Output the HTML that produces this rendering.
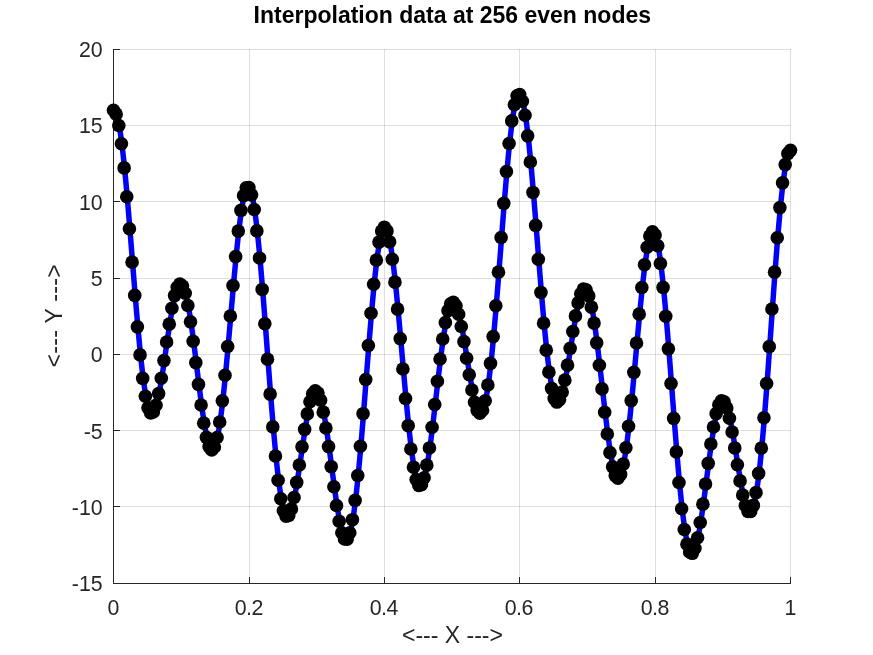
<!DOCTYPE html>
<html lang="en"><head><meta charset="utf-8"><title>Interpolation data at 256 even nodes</title>
<style>html,body{margin:0;padding:0;background:#fff;overflow:hidden}svg{display:block}text{font-family:"Liberation Sans",sans-serif;fill:#262626}</style></head><body>
<svg width="873" height="655" viewBox="0 0 873 655">
<rect x="0" y="0" width="873" height="655" fill="#ffffff"/>
<g stroke="#262626" stroke-opacity="0.15" stroke-width="1" shape-rendering="crispEdges" fill="none">
<line x1="113.5" y1="49.0" x2="113.5" y2="584.0"/>
<line x1="249.5" y1="49.0" x2="249.5" y2="584.0"/>
<line x1="384.5" y1="49.0" x2="384.5" y2="584.0"/>
<line x1="519.5" y1="49.0" x2="519.5" y2="584.0"/>
<line x1="655.5" y1="49.0" x2="655.5" y2="584.0"/>
<line x1="790.5" y1="49.0" x2="790.5" y2="584.0"/>
<line x1="113.0" y1="583.5" x2="791.0" y2="583.5"/>
<line x1="113.0" y1="506.5" x2="791.0" y2="506.5"/>
<line x1="113.0" y1="430.5" x2="791.0" y2="430.5"/>
<line x1="113.0" y1="354.5" x2="791.0" y2="354.5"/>
<line x1="113.0" y1="278.5" x2="791.0" y2="278.5"/>
<line x1="113.0" y1="201.5" x2="791.0" y2="201.5"/>
<line x1="113.0" y1="125.5" x2="791.0" y2="125.5"/>
<line x1="113.0" y1="49.5" x2="791.0" y2="49.5"/>
</g>
<g stroke="#262626" stroke-width="1" shape-rendering="crispEdges" fill="none">
<line x1="113.5" y1="49.0" x2="113.5" y2="584.0"/>
<line x1="113.0" y1="583.5" x2="791.0" y2="583.5"/>
<line x1="113.5" y1="584.0" x2="113.5" y2="577.0"/>
<line x1="249.5" y1="584.0" x2="249.5" y2="577.0"/>
<line x1="384.5" y1="584.0" x2="384.5" y2="577.0"/>
<line x1="519.5" y1="584.0" x2="519.5" y2="577.0"/>
<line x1="655.5" y1="584.0" x2="655.5" y2="577.0"/>
<line x1="790.5" y1="584.0" x2="790.5" y2="577.0"/>
<line x1="113.0" y1="583.5" x2="120.0" y2="583.5"/>
<line x1="113.0" y1="506.5" x2="120.0" y2="506.5"/>
<line x1="113.0" y1="430.5" x2="120.0" y2="430.5"/>
<line x1="113.0" y1="354.5" x2="120.0" y2="354.5"/>
<line x1="113.0" y1="278.5" x2="120.0" y2="278.5"/>
<line x1="113.0" y1="201.5" x2="120.0" y2="201.5"/>
<line x1="113.0" y1="125.5" x2="120.0" y2="125.5"/>
<line x1="113.0" y1="49.5" x2="120.0" y2="49.5"/>
</g>
<g font-size="21.33px">
<text x="113.50" y="614.90" text-anchor="middle">0</text>
<text x="248.80" y="614.90" text-anchor="middle" letter-spacing="-0.5">0.2</text>
<text x="383.80" y="614.90" text-anchor="middle" letter-spacing="-0.5">0.4</text>
<text x="518.80" y="614.90" text-anchor="middle" letter-spacing="-0.5">0.6</text>
<text x="654.80" y="614.90" text-anchor="middle" letter-spacing="-0.5">0.8</text>
<text x="790.50" y="614.90" text-anchor="middle">1</text>
<text x="102.70" y="590.80" text-anchor="end">-15</text>
<text x="102.70" y="514.80" text-anchor="end">-10</text>
<text x="102.70" y="438.80" text-anchor="end">-5</text>
<text x="102.70" y="361.80" text-anchor="end">0</text>
<text x="102.70" y="285.80" text-anchor="end">5</text>
<text x="102.70" y="209.80" text-anchor="end">10</text>
<text x="102.70" y="132.80" text-anchor="end">15</text>
<text x="102.70" y="56.80" text-anchor="end">20</text>
</g>
<text x="452.30" y="22.80" text-anchor="middle" font-size="23.00px" font-weight="bold" fill="#000000" style="fill:#000">Interpolation data at 256 even nodes</text>
<text x="452.50" y="642.80" text-anchor="middle" font-size="23.00px">&lt;--- X ---&gt;</text>
<text transform="translate(62.00 315.80) rotate(-90)" text-anchor="middle" letter-spacing="0.3" font-size="23.00px">&lt;--- Y ---&gt;</text>
<polyline points="113.95,110.31 116.60,114.16 119.26,125.51 121.91,143.75 124.57,167.92 127.22,196.73 129.88,228.70 132.53,262.16 135.19,295.42 137.84,326.83 140.50,354.89 143.15,378.33 145.81,396.19 148.46,407.84 151.12,413.06 153.77,412.01 156.43,405.23 159.08,393.60 161.74,378.27 164.39,360.60 167.05,342.06 169.70,324.13 172.36,308.24 175.01,295.62 177.67,287.30 180.32,283.96 182.98,285.95 185.63,293.25 188.29,305.45 190.94,321.82 193.60,341.31 196.25,362.64 198.91,384.38 201.56,405.04 204.22,423.14 206.87,437.37 209.53,446.58 212.18,449.95 214.84,446.98 217.49,437.56 220.15,421.96 222.80,400.86 225.46,375.25 228.11,346.44 230.77,315.96 233.42,285.46 236.08,256.63 238.73,231.10 241.39,210.36 244.04,195.64 246.70,187.85 249.35,187.54 252.00,194.85 254.66,209.53 257.31,230.91 259.97,257.99 262.62,289.43 265.28,323.72 267.93,359.18 270.59,394.11 273.24,426.88 275.90,456.01 278.55,480.26 281.21,498.71 283.86,510.78 286.52,516.30 289.17,515.47 291.83,508.89 294.48,497.47 297.14,482.39 299.79,465.02 302.45,446.84 305.10,429.33 307.76,413.88 310.41,401.72 313.07,393.80 315.72,390.78 318.38,392.95 321.03,400.23 323.69,412.17 326.34,427.99 329.00,446.59 331.65,466.68 334.31,486.81 336.96,505.48 339.62,521.23 342.27,532.77 344.93,539.00 347.58,539.13 350.24,532.71 352.89,519.68 355.55,500.39 358.20,475.54 360.86,446.19 363.51,413.68 366.17,379.56 368.82,345.50 371.48,313.19 374.13,284.27 376.79,260.17 379.44,242.10 382.10,230.94 384.75,227.18 387.40,230.92 390.06,241.86 392.71,259.29 395.37,282.14 398.02,309.10 400.68,338.59 403.33,368.97 405.99,398.53 408.64,425.68 411.30,448.95 413.95,467.18 416.61,479.48 419.26,485.35 421.92,484.68 424.57,477.73 427.23,465.16 429.88,447.93 432.54,427.26 435.19,404.56 437.85,381.31 440.50,359.02 443.16,339.05 445.81,322.61 448.47,310.64 451.12,303.75 453.78,302.19 456.43,305.85 459.09,314.24 461.74,326.54 464.40,341.63 467.05,358.20 469.71,374.81 472.36,389.95 475.02,402.22 477.67,410.32 480.33,413.21 482.98,410.16 485.64,400.77 488.29,385.06 490.95,363.41 493.60,336.59 496.26,305.70 498.91,272.14 501.57,237.46 504.22,203.36 506.88,171.52 509.53,143.56 512.19,120.90 514.84,104.70 517.50,95.78 520.15,94.60 522.80,101.20 525.46,115.20 528.11,135.85 530.77,162.06 533.42,192.43 536.08,225.41 538.73,259.30 541.39,292.43 544.04,323.18 546.70,350.14 549.35,372.15 552.01,388.39 554.66,398.38 557.32,402.07 559.97,399.75 562.63,392.12 565.28,380.16 567.94,365.13 570.59,348.42 573.25,331.52 575.90,315.90 578.56,302.91 581.21,293.70 583.87,289.15 586.52,289.82 589.18,295.88 591.83,307.17 594.49,323.12 597.14,342.86 599.80,365.24 602.45,388.88 605.11,412.31 607.76,434.05 610.42,452.64 613.07,466.84 615.73,475.61 618.38,478.24 621.04,474.39 623.69,464.10 626.35,447.79 629.00,426.26 631.66,400.65 634.31,372.36 636.97,342.96 639.62,314.13 642.28,287.55 644.93,264.78 647.59,247.22 650.24,235.97 652.90,231.79 655.55,235.06 658.20,245.77 660.86,263.48 663.51,287.38 666.17,316.31 668.82,348.87 671.48,383.44 674.13,418.35 676.79,451.89 679.44,482.48 682.10,508.75 684.75,529.56 687.41,544.13 690.06,552.06 692.72,553.32 695.37,548.29 698.03,537.69 700.68,522.55 703.34,504.17 705.99,483.95 708.65,463.40 711.30,443.98 713.96,427.02 716.61,413.66 719.27,404.74 721.92,400.78 724.58,401.92 727.23,407.95 729.89,418.28 732.54,432.00 735.20,447.93 737.85,464.72 740.51,480.89 743.16,494.95 745.82,505.53 748.47,511.38 751.13,511.56 753.78,505.40 756.44,492.64 759.09,473.38 761.75,448.13 764.40,417.76 767.06,383.44 769.71,346.64 772.37,308.97 775.02,272.13 777.68,237.81 780.33,207.59 782.99,182.82 785.64,164.60 788.30,153.65 790.95,150.34" fill="none" stroke="#0000ff" stroke-width="5.50" stroke-linejoin="round" stroke-linecap="butt"/>
<g fill="#000000">
<circle cx="113.50" cy="110.31" r="6.80"/>
<circle cx="116.15" cy="114.16" r="6.80"/>
<circle cx="118.81" cy="125.51" r="6.80"/>
<circle cx="121.46" cy="143.75" r="6.80"/>
<circle cx="124.12" cy="167.92" r="6.80"/>
<circle cx="126.77" cy="196.73" r="6.80"/>
<circle cx="129.43" cy="228.70" r="6.80"/>
<circle cx="132.08" cy="262.16" r="6.80"/>
<circle cx="134.74" cy="295.42" r="6.80"/>
<circle cx="137.39" cy="326.83" r="6.80"/>
<circle cx="140.05" cy="354.89" r="6.80"/>
<circle cx="142.70" cy="378.33" r="6.80"/>
<circle cx="145.36" cy="396.19" r="6.80"/>
<circle cx="148.01" cy="407.84" r="6.80"/>
<circle cx="150.67" cy="413.06" r="6.80"/>
<circle cx="153.32" cy="412.01" r="6.80"/>
<circle cx="155.98" cy="405.23" r="6.80"/>
<circle cx="158.63" cy="393.60" r="6.80"/>
<circle cx="161.29" cy="378.27" r="6.80"/>
<circle cx="163.94" cy="360.60" r="6.80"/>
<circle cx="166.60" cy="342.06" r="6.80"/>
<circle cx="169.25" cy="324.13" r="6.80"/>
<circle cx="171.91" cy="308.24" r="6.80"/>
<circle cx="174.56" cy="295.62" r="6.80"/>
<circle cx="177.22" cy="287.30" r="6.80"/>
<circle cx="179.87" cy="283.96" r="6.80"/>
<circle cx="182.53" cy="285.95" r="6.80"/>
<circle cx="185.18" cy="293.25" r="6.80"/>
<circle cx="187.84" cy="305.45" r="6.80"/>
<circle cx="190.49" cy="321.82" r="6.80"/>
<circle cx="193.15" cy="341.31" r="6.80"/>
<circle cx="195.80" cy="362.64" r="6.80"/>
<circle cx="198.46" cy="384.38" r="6.80"/>
<circle cx="201.11" cy="405.04" r="6.80"/>
<circle cx="203.77" cy="423.14" r="6.80"/>
<circle cx="206.42" cy="437.37" r="6.80"/>
<circle cx="209.08" cy="446.58" r="6.80"/>
<circle cx="211.73" cy="449.95" r="6.80"/>
<circle cx="214.39" cy="446.98" r="6.80"/>
<circle cx="217.04" cy="437.56" r="6.80"/>
<circle cx="219.70" cy="421.96" r="6.80"/>
<circle cx="222.35" cy="400.86" r="6.80"/>
<circle cx="225.01" cy="375.25" r="6.80"/>
<circle cx="227.66" cy="346.44" r="6.80"/>
<circle cx="230.32" cy="315.96" r="6.80"/>
<circle cx="232.97" cy="285.46" r="6.80"/>
<circle cx="235.63" cy="256.63" r="6.80"/>
<circle cx="238.28" cy="231.10" r="6.80"/>
<circle cx="240.94" cy="210.36" r="6.80"/>
<circle cx="243.59" cy="195.64" r="6.80"/>
<circle cx="246.25" cy="187.85" r="6.80"/>
<circle cx="248.90" cy="187.54" r="6.80"/>
<circle cx="251.55" cy="194.85" r="6.80"/>
<circle cx="254.21" cy="209.53" r="6.80"/>
<circle cx="256.86" cy="230.91" r="6.80"/>
<circle cx="259.52" cy="257.99" r="6.80"/>
<circle cx="262.17" cy="289.43" r="6.80"/>
<circle cx="264.83" cy="323.72" r="6.80"/>
<circle cx="267.48" cy="359.18" r="6.80"/>
<circle cx="270.14" cy="394.11" r="6.80"/>
<circle cx="272.79" cy="426.88" r="6.80"/>
<circle cx="275.45" cy="456.01" r="6.80"/>
<circle cx="278.10" cy="480.26" r="6.80"/>
<circle cx="280.76" cy="498.71" r="6.80"/>
<circle cx="283.41" cy="510.78" r="6.80"/>
<circle cx="286.07" cy="516.30" r="6.80"/>
<circle cx="288.72" cy="515.47" r="6.80"/>
<circle cx="291.38" cy="508.89" r="6.80"/>
<circle cx="294.03" cy="497.47" r="6.80"/>
<circle cx="296.69" cy="482.39" r="6.80"/>
<circle cx="299.34" cy="465.02" r="6.80"/>
<circle cx="302.00" cy="446.84" r="6.80"/>
<circle cx="304.65" cy="429.33" r="6.80"/>
<circle cx="307.31" cy="413.88" r="6.80"/>
<circle cx="309.96" cy="401.72" r="6.80"/>
<circle cx="312.62" cy="393.80" r="6.80"/>
<circle cx="315.27" cy="390.78" r="6.80"/>
<circle cx="317.93" cy="392.95" r="6.80"/>
<circle cx="320.58" cy="400.23" r="6.80"/>
<circle cx="323.24" cy="412.17" r="6.80"/>
<circle cx="325.89" cy="427.99" r="6.80"/>
<circle cx="328.55" cy="446.59" r="6.80"/>
<circle cx="331.20" cy="466.68" r="6.80"/>
<circle cx="333.86" cy="486.81" r="6.80"/>
<circle cx="336.51" cy="505.48" r="6.80"/>
<circle cx="339.17" cy="521.23" r="6.80"/>
<circle cx="341.82" cy="532.77" r="6.80"/>
<circle cx="344.48" cy="539.00" r="6.80"/>
<circle cx="347.13" cy="539.13" r="6.80"/>
<circle cx="349.79" cy="532.71" r="6.80"/>
<circle cx="352.44" cy="519.68" r="6.80"/>
<circle cx="355.10" cy="500.39" r="6.80"/>
<circle cx="357.75" cy="475.54" r="6.80"/>
<circle cx="360.41" cy="446.19" r="6.80"/>
<circle cx="363.06" cy="413.68" r="6.80"/>
<circle cx="365.72" cy="379.56" r="6.80"/>
<circle cx="368.37" cy="345.50" r="6.80"/>
<circle cx="371.03" cy="313.19" r="6.80"/>
<circle cx="373.68" cy="284.27" r="6.80"/>
<circle cx="376.34" cy="260.17" r="6.80"/>
<circle cx="378.99" cy="242.10" r="6.80"/>
<circle cx="381.65" cy="230.94" r="6.80"/>
<circle cx="384.30" cy="227.18" r="6.80"/>
<circle cx="386.95" cy="230.92" r="6.80"/>
<circle cx="389.61" cy="241.86" r="6.80"/>
<circle cx="392.26" cy="259.29" r="6.80"/>
<circle cx="394.92" cy="282.14" r="6.80"/>
<circle cx="397.57" cy="309.10" r="6.80"/>
<circle cx="400.23" cy="338.59" r="6.80"/>
<circle cx="402.88" cy="368.97" r="6.80"/>
<circle cx="405.54" cy="398.53" r="6.80"/>
<circle cx="408.19" cy="425.68" r="6.80"/>
<circle cx="410.85" cy="448.95" r="6.80"/>
<circle cx="413.50" cy="467.18" r="6.80"/>
<circle cx="416.16" cy="479.48" r="6.80"/>
<circle cx="418.81" cy="485.35" r="6.80"/>
<circle cx="421.47" cy="484.68" r="6.80"/>
<circle cx="424.12" cy="477.73" r="6.80"/>
<circle cx="426.78" cy="465.16" r="6.80"/>
<circle cx="429.43" cy="447.93" r="6.80"/>
<circle cx="432.09" cy="427.26" r="6.80"/>
<circle cx="434.74" cy="404.56" r="6.80"/>
<circle cx="437.40" cy="381.31" r="6.80"/>
<circle cx="440.05" cy="359.02" r="6.80"/>
<circle cx="442.71" cy="339.05" r="6.80"/>
<circle cx="445.36" cy="322.61" r="6.80"/>
<circle cx="448.02" cy="310.64" r="6.80"/>
<circle cx="450.67" cy="303.75" r="6.80"/>
<circle cx="453.33" cy="302.19" r="6.80"/>
<circle cx="455.98" cy="305.85" r="6.80"/>
<circle cx="458.64" cy="314.24" r="6.80"/>
<circle cx="461.29" cy="326.54" r="6.80"/>
<circle cx="463.95" cy="341.63" r="6.80"/>
<circle cx="466.60" cy="358.20" r="6.80"/>
<circle cx="469.26" cy="374.81" r="6.80"/>
<circle cx="471.91" cy="389.95" r="6.80"/>
<circle cx="474.57" cy="402.22" r="6.80"/>
<circle cx="477.22" cy="410.32" r="6.80"/>
<circle cx="479.88" cy="413.21" r="6.80"/>
<circle cx="482.53" cy="410.16" r="6.80"/>
<circle cx="485.19" cy="400.77" r="6.80"/>
<circle cx="487.84" cy="385.06" r="6.80"/>
<circle cx="490.50" cy="363.41" r="6.80"/>
<circle cx="493.15" cy="336.59" r="6.80"/>
<circle cx="495.81" cy="305.70" r="6.80"/>
<circle cx="498.46" cy="272.14" r="6.80"/>
<circle cx="501.12" cy="237.46" r="6.80"/>
<circle cx="503.77" cy="203.36" r="6.80"/>
<circle cx="506.43" cy="171.52" r="6.80"/>
<circle cx="509.08" cy="143.56" r="6.80"/>
<circle cx="511.74" cy="120.90" r="6.80"/>
<circle cx="514.39" cy="104.70" r="6.80"/>
<circle cx="517.05" cy="95.78" r="6.80"/>
<circle cx="519.70" cy="94.60" r="6.80"/>
<circle cx="522.35" cy="101.20" r="6.80"/>
<circle cx="525.01" cy="115.20" r="6.80"/>
<circle cx="527.66" cy="135.85" r="6.80"/>
<circle cx="530.32" cy="162.06" r="6.80"/>
<circle cx="532.97" cy="192.43" r="6.80"/>
<circle cx="535.63" cy="225.41" r="6.80"/>
<circle cx="538.28" cy="259.30" r="6.80"/>
<circle cx="540.94" cy="292.43" r="6.80"/>
<circle cx="543.59" cy="323.18" r="6.80"/>
<circle cx="546.25" cy="350.14" r="6.80"/>
<circle cx="548.90" cy="372.15" r="6.80"/>
<circle cx="551.56" cy="388.39" r="6.80"/>
<circle cx="554.21" cy="398.38" r="6.80"/>
<circle cx="556.87" cy="402.07" r="6.80"/>
<circle cx="559.52" cy="399.75" r="6.80"/>
<circle cx="562.18" cy="392.12" r="6.80"/>
<circle cx="564.83" cy="380.16" r="6.80"/>
<circle cx="567.49" cy="365.13" r="6.80"/>
<circle cx="570.14" cy="348.42" r="6.80"/>
<circle cx="572.80" cy="331.52" r="6.80"/>
<circle cx="575.45" cy="315.90" r="6.80"/>
<circle cx="578.11" cy="302.91" r="6.80"/>
<circle cx="580.76" cy="293.70" r="6.80"/>
<circle cx="583.42" cy="289.15" r="6.80"/>
<circle cx="586.07" cy="289.82" r="6.80"/>
<circle cx="588.73" cy="295.88" r="6.80"/>
<circle cx="591.38" cy="307.17" r="6.80"/>
<circle cx="594.04" cy="323.12" r="6.80"/>
<circle cx="596.69" cy="342.86" r="6.80"/>
<circle cx="599.35" cy="365.24" r="6.80"/>
<circle cx="602.00" cy="388.88" r="6.80"/>
<circle cx="604.66" cy="412.31" r="6.80"/>
<circle cx="607.31" cy="434.05" r="6.80"/>
<circle cx="609.97" cy="452.64" r="6.80"/>
<circle cx="612.62" cy="466.84" r="6.80"/>
<circle cx="615.28" cy="475.61" r="6.80"/>
<circle cx="617.93" cy="478.24" r="6.80"/>
<circle cx="620.59" cy="474.39" r="6.80"/>
<circle cx="623.24" cy="464.10" r="6.80"/>
<circle cx="625.90" cy="447.79" r="6.80"/>
<circle cx="628.55" cy="426.26" r="6.80"/>
<circle cx="631.21" cy="400.65" r="6.80"/>
<circle cx="633.86" cy="372.36" r="6.80"/>
<circle cx="636.52" cy="342.96" r="6.80"/>
<circle cx="639.17" cy="314.13" r="6.80"/>
<circle cx="641.83" cy="287.55" r="6.80"/>
<circle cx="644.48" cy="264.78" r="6.80"/>
<circle cx="647.14" cy="247.22" r="6.80"/>
<circle cx="649.79" cy="235.97" r="6.80"/>
<circle cx="652.45" cy="231.79" r="6.80"/>
<circle cx="655.10" cy="235.06" r="6.80"/>
<circle cx="657.75" cy="245.77" r="6.80"/>
<circle cx="660.41" cy="263.48" r="6.80"/>
<circle cx="663.06" cy="287.38" r="6.80"/>
<circle cx="665.72" cy="316.31" r="6.80"/>
<circle cx="668.37" cy="348.87" r="6.80"/>
<circle cx="671.03" cy="383.44" r="6.80"/>
<circle cx="673.68" cy="418.35" r="6.80"/>
<circle cx="676.34" cy="451.89" r="6.80"/>
<circle cx="678.99" cy="482.48" r="6.80"/>
<circle cx="681.65" cy="508.75" r="6.80"/>
<circle cx="684.30" cy="529.56" r="6.80"/>
<circle cx="686.96" cy="544.13" r="6.80"/>
<circle cx="689.61" cy="552.06" r="6.80"/>
<circle cx="692.27" cy="553.32" r="6.80"/>
<circle cx="694.92" cy="548.29" r="6.80"/>
<circle cx="697.58" cy="537.69" r="6.80"/>
<circle cx="700.23" cy="522.55" r="6.80"/>
<circle cx="702.89" cy="504.17" r="6.80"/>
<circle cx="705.54" cy="483.95" r="6.80"/>
<circle cx="708.20" cy="463.40" r="6.80"/>
<circle cx="710.85" cy="443.98" r="6.80"/>
<circle cx="713.51" cy="427.02" r="6.80"/>
<circle cx="716.16" cy="413.66" r="6.80"/>
<circle cx="718.82" cy="404.74" r="6.80"/>
<circle cx="721.47" cy="400.78" r="6.80"/>
<circle cx="724.13" cy="401.92" r="6.80"/>
<circle cx="726.78" cy="407.95" r="6.80"/>
<circle cx="729.44" cy="418.28" r="6.80"/>
<circle cx="732.09" cy="432.00" r="6.80"/>
<circle cx="734.75" cy="447.93" r="6.80"/>
<circle cx="737.40" cy="464.72" r="6.80"/>
<circle cx="740.06" cy="480.89" r="6.80"/>
<circle cx="742.71" cy="494.95" r="6.80"/>
<circle cx="745.37" cy="505.53" r="6.80"/>
<circle cx="748.02" cy="511.38" r="6.80"/>
<circle cx="750.68" cy="511.56" r="6.80"/>
<circle cx="753.33" cy="505.40" r="6.80"/>
<circle cx="755.99" cy="492.64" r="6.80"/>
<circle cx="758.64" cy="473.38" r="6.80"/>
<circle cx="761.30" cy="448.13" r="6.80"/>
<circle cx="763.95" cy="417.76" r="6.80"/>
<circle cx="766.61" cy="383.44" r="6.80"/>
<circle cx="769.26" cy="346.64" r="6.80"/>
<circle cx="771.92" cy="308.97" r="6.80"/>
<circle cx="774.57" cy="272.13" r="6.80"/>
<circle cx="777.23" cy="237.81" r="6.80"/>
<circle cx="779.88" cy="207.59" r="6.80"/>
<circle cx="782.54" cy="182.82" r="6.80"/>
<circle cx="785.19" cy="164.60" r="6.80"/>
<circle cx="787.85" cy="153.65" r="6.80"/>
<circle cx="790.50" cy="150.34" r="6.80"/>
</g>
</svg></body></html>
